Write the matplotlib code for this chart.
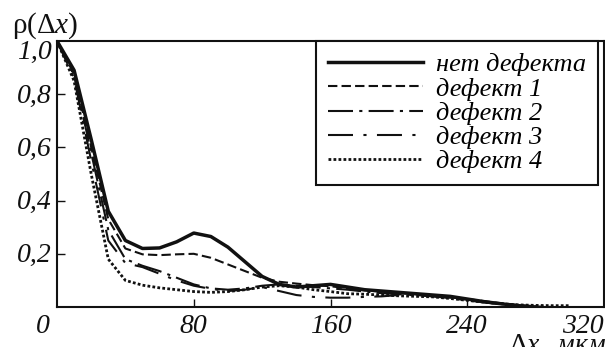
import matplotlib.pyplot as plt

plt.rcParams['font.family'] = ['Liberation Serif', 'DejaVu Serif']
plt.rcParams['mathtext.fontset'] = 'custom'
plt.rcParams['mathtext.rm'] = 'Liberation Serif'
plt.rcParams['mathtext.it'] = 'Liberation Serif:italic'

# data, step 10 um
dx = list(range(0, 310, 10))
no_defect = [1.0, 0.89, 0.63, 0.36, 0.25, 0.22, 0.222, 0.245, 0.278, 0.265, 0.225,
             0.17, 0.115, 0.085, 0.075, 0.08, 0.085, 0.075, 0.065, 0.06, 0.055,
             0.05, 0.045, 0.04, 0.03, 0.02, 0.012, 0.005, 0.0]
defect1 = [1.0, 0.875, 0.6, 0.33, 0.22, 0.198, 0.195, 0.198, 0.2, 0.185, 0.16,
           0.135, 0.11, 0.095, 0.088, 0.082, 0.078, 0.07, 0.062, 0.058, 0.052,
           0.048, 0.042, 0.036, 0.03, 0.022, 0.014, 0.007, 0.002, 0.0]
defect2 = [1.0, 0.87, 0.58, 0.29, 0.18, 0.155, 0.135, 0.11, 0.085, 0.07, 0.065,
           0.07, 0.08, 0.085, 0.08, 0.075, 0.07, 0.065, 0.058, 0.052, 0.048,
           0.045, 0.04, 0.035, 0.028, 0.02, 0.012, 0.005, 0.0]
defect3 = [1.0, 0.86, 0.55, 0.25, 0.165, 0.15, 0.125, 0.1, 0.08, 0.068, 0.06,
           0.065, 0.075, 0.06, 0.045, 0.038, 0.035, 0.035, 0.038, 0.04, 0.045,
           0.045, 0.04, 0.033, 0.025, 0.017, 0.01, 0.004, 0.0]
defect4 = [1.0, 0.85, 0.5, 0.18, 0.1, 0.082, 0.072, 0.065, 0.058, 0.055, 0.058,
           0.065, 0.075, 0.08, 0.075, 0.065, 0.058, 0.05, 0.048, 0.045, 0.042,
           0.04, 0.038, 0.032, 0.025, 0.018, 0.012, 0.008, 0.006, 0.005, 0.005]

labels = ['нет дефекта', 'дефект 1', 'дефект 2', 'дефект 3', 'дефект 4']
xtick_vals = [0, 80, 160, 240, 320]
xtick_labels = ['0', '80', '160', '240', '320']
ytick_vals = [0.2, 0.4, 0.6, 0.8, 1.0]
ytick_labels = ['0,2', '0,4', '0,6', '0,8', '1,0']

fig = plt.figure(figsize=(6.05, 3.47), dpi=100)
ax = fig.add_axes([57 / 605, 1 - 307 / 347, 547 / 605, 266 / 347])

ax.plot(dx[:len(no_defect)], no_defect, color='#111', lw=2.5, ls='-', label=labels[0])
ax.plot(dx[:len(defect1)], defect1, color='#111', lw=1.5, ls=(0, (4.5, 2)), label=labels[1])
ax.plot(dx[:len(defect2)], defect2, color='#111', lw=1.5, ls=(0, (12, 3, 1.5, 3)), label=labels[2])
ax.plot(dx[:len(defect3)], defect3, color='#111', lw=1.5, ls=(0, (12, 5, 1.5, 5)), label=labels[3])
ax.plot(dx[:len(defect4)], defect4, color='#111', lw=2.0, ls=(0, (1, 0.8)), label=labels[4])

ax.set_xlim(0, 320)
ax.set_ylim(0, 1.0)
for s in ax.spines.values():
    s.set_linewidth(1.5)
    s.set_color('#111')

ax.set_xticks(xtick_vals[1:-1])
ax.set_xticklabels([])
ax.set_yticks(ytick_vals[:-1])
ax.set_yticklabels([])
ax.tick_params(direction='in', length=6, width=1.0, color='#111')

tfont = dict(fontsize=20, style='italic', color='#111')
for v, t in zip(ytick_vals, ytick_labels):
    dy = -8 if v == 1.0 else -1.5
    ax.annotate(t, (0, v), xycoords=('axes fraction', 'data'), xytext=(-4, dy),
                textcoords='offset points', ha='right', va='center', **tfont)
for v, t in zip(xtick_vals, xtick_labels):
    ha = 'center'
    off = 0
    if v == 0:
        ha, off = 'right', -5
    if v == 320:
        ha, off = 'right', 0
    ax.annotate(t, (v, 0), xycoords=('data', 'axes fraction'), xytext=(off, -5),
                textcoords='offset points', ha=ha, va='top', **tfont)

fig.text(12 / 605, 1 - 33 / 347, r'$\mathrm{\rho(\Delta}x\mathrm{)}$', fontsize=21,
         color='#111', ha='left', va='baseline')
fig.text(606 / 605, 1 - 352 / 347, r'$\mathrm{\Delta}x\mathit{,\ мкм}$', fontsize=20,
         color='#111', ha='right', va='baseline')

leg = ax.legend(loc='upper right', bbox_to_anchor=((598 - 57) / 547, 1.0),
                borderaxespad=0, fancybox=False, edgecolor='#111', framealpha=1,
                prop=dict(family='Liberation Serif', style='italic', size=19),
                handlelength=3.6, handletextpad=0.5, labelspacing=0.03,
                borderpad=0.45)
leg.get_frame().set_linewidth(1.5)

fig.savefig('out.png', dpi=100)
